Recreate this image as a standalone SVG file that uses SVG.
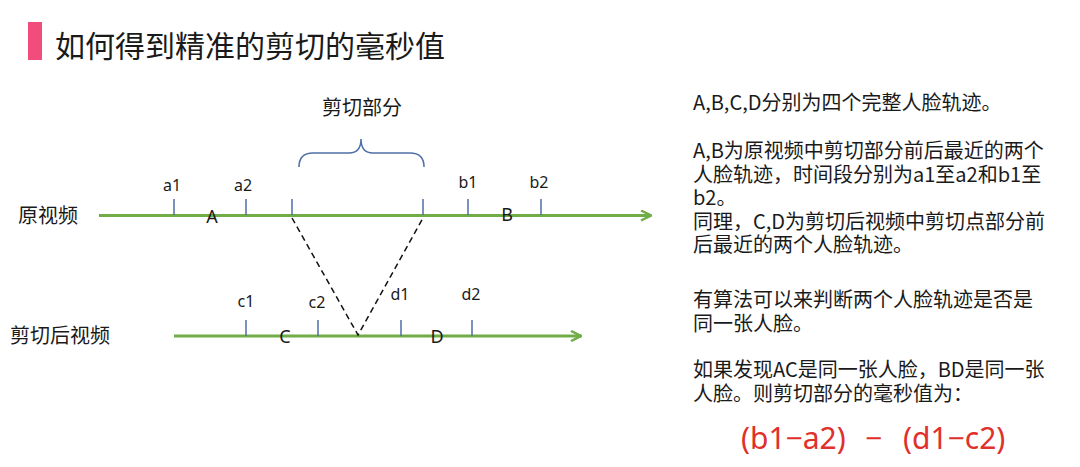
<svg xmlns="http://www.w3.org/2000/svg" width="1080" height="467" viewBox="0 0 1080 467">
<style>
.cjk{font-family:"Noto Sans CJK SC","Noto Sans",sans-serif;fill:#1a1a1a}
.lbl{font-family:"Noto Sans","Noto Sans CJK SC",sans-serif;font-size:16px;fill:#1a1a1a;text-anchor:middle}
.big{font-family:"Noto Sans","Noto Sans CJK SC",sans-serif;font-size:18px;fill:#1a1a1a;text-anchor:middle}
.tl{fill:none;stroke:#70AD47;stroke-width:3}
.tick{stroke:#4F6FA6;stroke-width:1.5}
.dash{fill:none;stroke:#111;stroke-width:1.5;stroke-dasharray:6,4}
.note{font-family:"Noto Sans CJK SC","Noto Sans",sans-serif;font-size:20px;fill:#1a1a1a}
.formula{font-family:"Noto Sans","Noto Sans CJK SC",sans-serif;font-size:30px;fill:#E0302C}
</style>
<defs>
<marker id="arr" viewBox="0 0 12 12" refX="11" refY="6" markerWidth="12" markerHeight="12" markerUnits="userSpaceOnUse" orient="auto">
<path d="M1,1 L11,6 L1,11" fill="none" stroke="#70AD47" stroke-width="2.5"/>
</marker>
</defs>
<rect width="1080" height="467" fill="#fff"/>
<g id="title">
<rect x="28" y="22" width="14" height="38" fill="#F24C7C"/>
<text class="cjk" x="55" y="57" font-size="30">如何得到精准的剪切的毫秒值</text>
</g>
<g id="original-video">
<text class="cjk" x="18" y="223" font-size="20">原视频</text>
<line class="tl" x1="99" y1="215.5" x2="651" y2="215.5" marker-end="url(#arr)"/>
<line class="tick" x1="174" y1="199" x2="174" y2="215"/>
<line class="tick" x1="246" y1="199" x2="246" y2="215"/>
<line class="tick" x1="292" y1="199" x2="292" y2="215"/>
<line class="tick" x1="423" y1="199" x2="423" y2="215"/>
<line class="tick" x1="468" y1="199" x2="468" y2="215"/>
<line class="tick" x1="541" y1="199" x2="541" y2="215"/>
<text class="lbl" x="172" y="191">a1</text>
<text class="lbl" x="243" y="191">a2</text>
<text class="lbl" x="468" y="188">b1</text>
<text class="lbl" x="539" y="188">b2</text>
<text class="big" x="212" y="223">A</text>
<text class="big" x="507" y="221">B</text>
</g>
<g id="cut-part">
<path d="M299,167 Q299,153 313,153 L349,153 Q361,153 361,139 Q361,153 373,153 L410,153 Q424,153 424,167" fill="none" stroke="#4F6FA6" stroke-width="1.5"/>
<text class="cjk" x="362" y="115" font-size="20" text-anchor="middle">剪切部分</text>
</g>
<g id="cut-video">
<text class="cjk" x="10" y="343" font-size="20">剪切后视频</text>
<line class="tl" x1="174" y1="336" x2="581" y2="336" marker-end="url(#arr)"/>
<line class="tick" x1="246" y1="320" x2="246" y2="336"/>
<line class="tick" x1="318" y1="320" x2="318" y2="336"/>
<line class="tick" x1="401" y1="320" x2="401" y2="336"/>
<line class="tick" x1="472" y1="320" x2="472" y2="336"/>
<text class="lbl" x="246" y="307">c1</text>
<text class="lbl" x="317" y="308">c2</text>
<text class="lbl" x="400" y="300">d1</text>
<text class="lbl" x="471" y="300">d2</text>
<text class="big" x="285" y="343">C</text>
<text class="big" x="437" y="343">D</text>
</g>
<g id="connectors">
<path class="dash" d="M292,218 L358,335 L423,218"/>
</g>
<g id="notes">
<text class="note" x="693" y="110">A,B,C,D分别为四个完整人脸轨迹。</text>
<text class="note" y="158"><tspan x="693">A,B为原视频中剪切部分前后最近的两个</tspan><tspan x="693" dy="23.5">人脸轨迹，时间段分别为a1至a2和b1至</tspan><tspan x="693" dy="23.5">b2。</tspan><tspan x="693" dy="23.5">同理，C,D为剪切后视频中剪切点部分前</tspan><tspan x="693" dy="23.5">后最近的两个人脸轨迹。</tspan></text>
<text class="note" y="307"><tspan x="693">有算法可以来判断两个人脸轨迹是否是</tspan><tspan x="693" dy="24">同一张人脸。</tspan></text>
<text class="note" y="377"><tspan x="693">如果发现AC是同一张人脸，BD是同一张</tspan><tspan x="693" dy="24">人脸。则剪切部分的毫秒值为：</tspan></text>
</g>
<g id="formula">
<text class="formula" y="449"><tspan x="741">(b1−a2)</tspan><tspan x="865">−</tspan><tspan x="903">(d1−c2)</tspan></text>
</g>
</svg>
